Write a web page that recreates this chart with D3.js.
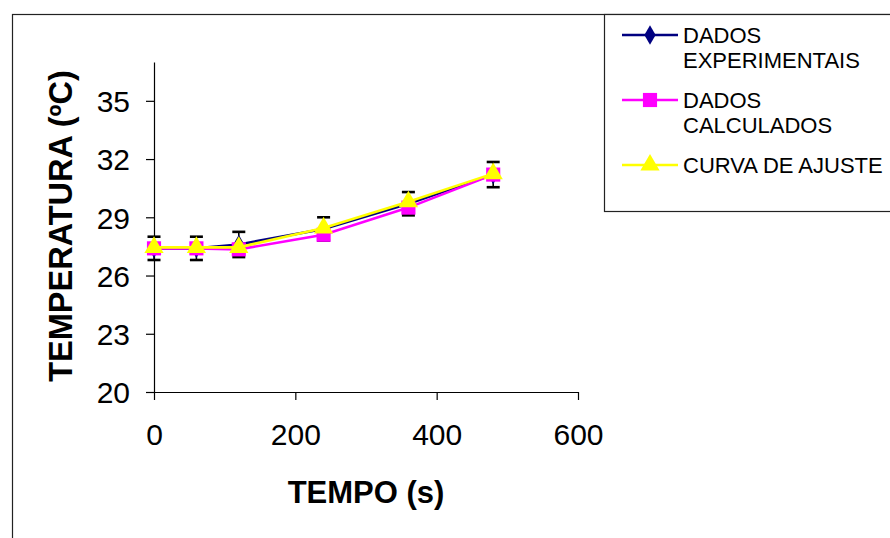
<!DOCTYPE html>
<html>
<head>
<meta charset="utf-8">
<script src="https://cdn.jsdelivr.net/npm/d3@7"></script>
<style>
  html, body { margin: 0; padding: 0; background: #fff; }
  svg { display: block; font-family: "Liberation Sans", Arial, sans-serif; }
</style>
</head>
<body>
<svg id="chart" width="890" height="538"></svg>
<script>
// Time (s) of each reading
const times = [0, 60, 120, 240, 360, 480];
// Temperature series (ºC)
const experimental = [27.4, 27.4, 27.6, 28.4, 29.7, 31.2];
const calculated = [27.4, 27.4, 27.35, 28.1, 29.5, 31.2];
const fitted = [27.45, 27.45, 27.45, 28.45, 29.8, 31.25];
// Uncertainty of the experimental readings (± ºC)
const errors = [0.6, 0.6, 0.65, 0.6, 0.6, 0.65];
// Axis ticks
const xTicks = [0, 200, 400, 600];
const yTicks = [20, 23, 26, 29, 32, 35];
const seriesNames = ["DADOS\nEXPERIMENTAIS", "DADOS\nCALCULADOS", "CURVA DE AJUSTE"];

const svg = d3.select("#chart");

// Outer chart frame (runs off the right and bottom edges)
svg.append("rect")
  .attr("x", 12.5).attr("y", 14.5)
  .attr("width", 900).attr("height", 560)
  .attr("fill", "#fff").attr("stroke", "#222").attr("stroke-width", 1.2);

const x = d3.scaleLinear().domain([0, 600]).range([154, 578]);
const y = d3.scaleLinear().domain([20, 37]).range([392, 62]);

// Axes
const xAxis = d3.axisBottom(x).tickValues(xTicks).tickSize(8).tickPadding(10).tickSizeOuter(0);
const yAxis = d3.axisLeft(y).tickValues(yTicks).tickSize(8).tickPadding(16).tickSizeOuter(0);

const gx = svg.append("g").attr("transform", `translate(0,${y(20)})`).call(xAxis);
const gy = svg.append("g").attr("transform", `translate(${x(0)},0)`).call(yAxis);
[gx, gy].forEach(g => {
  g.select(".domain").attr("stroke", "#000").attr("stroke-width", 1.2);
  g.selectAll(".tick line").attr("stroke", "#000").attr("stroke-width", 1.2);
  g.selectAll(".tick text")
    .attr("fill", "#000")
    .style("font-family", "'Liberation Sans', Arial, sans-serif")
    .style("font-size", "30px");
});
gy.selectAll(".tick text").attr("dy", "0.36em");
gx.selectAll(".tick text").attr("dy", "1.15em");

// Axis titles
svg.append("text")
  .attr("x", 366).attr("y", 503)
  .attr("text-anchor", "middle")
  .style("font-size", "31px").style("font-weight", "bold")
  .text("TEMPO (s)");

svg.append("text")
  .attr("transform", "translate(72,226) rotate(-90)")
  .attr("text-anchor", "middle")
  .style("font-size", "32.5px").style("font-weight", "bold")
  .text("TEMPERATURA (ºC)");

const line = d3.line().x((d, i) => x(times[i])).y(d => y(d));

const diamond = d3.symbol().type(d3.symbolDiamond).size(110);
const square = d3.symbol().type(d3.symbolSquare).size(200);
const triangle = d3.symbol().type(d3.symbolTriangle).size(160);

const series = [
  { values: experimental, color: "#000080", symbol: diamond, bars: true },
  { values: calculated, color: "#FF00FF", symbol: square, bars: false },
  { values: fitted, color: "#FFFF00", symbol: triangle, bars: false }
];

series.forEach(s => {
  const g = svg.append("g");
  g.append("path")
    .attr("d", line(s.values))
    .attr("fill", "none")
    .attr("stroke", s.color)
    .attr("stroke-width", 2.6);

  if (s.bars) {
    const eb = g.selectAll(".err").data(s.values).join("g").attr("class", "err");
    eb.append("line")
      .attr("x1", (d, i) => x(times[i])).attr("x2", (d, i) => x(times[i]))
      .attr("y1", (d, i) => y(d - errors[i])).attr("y2", (d, i) => y(d + errors[i]))
      .attr("stroke", "#000").attr("stroke-width", 1.6);
    [-1, 1].forEach(sign => {
      eb.append("line")
        .attr("x1", (d, i) => x(times[i]) - 6.5).attr("x2", (d, i) => x(times[i]) + 6.5)
        .attr("y1", (d, i) => y(d + sign * errors[i])).attr("y2", (d, i) => y(d + sign * errors[i]))
        .attr("stroke", "#000").attr("stroke-width", 2.6);
    });
  }

  g.selectAll(".mark").data(s.values).join("path")
    .attr("class", "mark")
    .attr("d", s.symbol)
    .attr("transform", (d, i) => `translate(${x(times[i])},${y(d)})`)
    .attr("fill", s.color);
});

// Legend
const legend = svg.append("g");
legend.append("rect")
  .attr("x", 604.5).attr("y", 14.5)
  .attr("width", 300).attr("height", 197)
  .attr("fill", "#fff").attr("stroke", "#222").attr("stroke-width", 1.2);

const legendRows = [35, 100, 165];
series.forEach((s, k) => {
  const cy = legendRows[k];
  legend.append("line")
    .attr("x1", 622).attr("x2", 678).attr("y1", cy).attr("y2", cy)
    .attr("stroke", s.color).attr("stroke-width", 2.6);
  legend.append("path")
    .attr("d", s.symbol)
    .attr("transform", `translate(650,${cy})`)
    .attr("fill", s.color);
  const t = legend.append("text")
    .attr("x", 683).attr("y", cy + 7.5)
    .style("font-size", "22px").attr("fill", "#000");
  seriesNames[k].split("\n").forEach((part, j) => {
    t.append("tspan").attr("x", 683).attr("dy", j === 0 ? 0 : 25).text(part);
  });
});
</script>
</body>
</html>
